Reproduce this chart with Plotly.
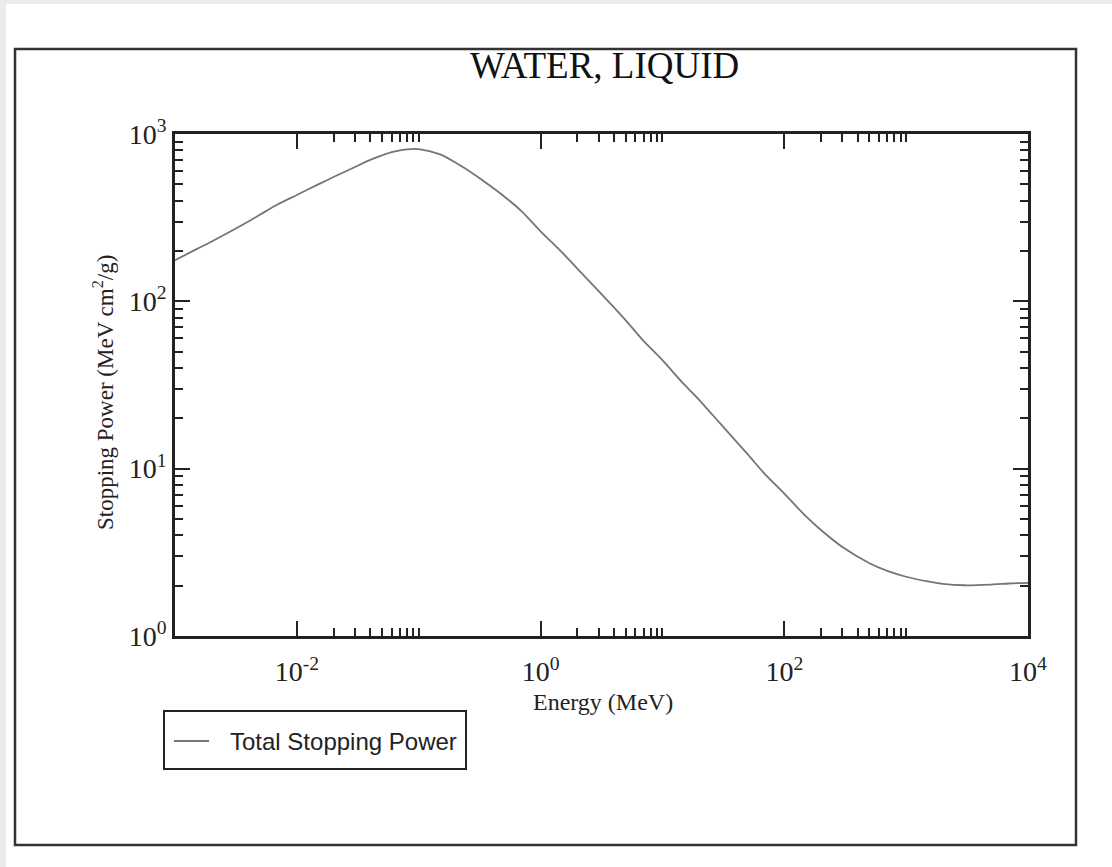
import plotly.graph_objects as go

# Proton total stopping power in liquid water
energy_mev = [0.001, 0.0015, 0.002, 0.003, 0.004, 0.005, 0.007, 0.01, 0.015, 0.02,
              0.03, 0.04, 0.05, 0.06, 0.08, 0.1, 0.15, 0.2, 0.3, 0.4, 0.5, 0.7,
              1.0, 1.5, 2.0, 3.0, 4.0, 5.0, 7.0, 10.0, 15.0, 20.0, 30.0, 50.0,
              70.0, 100.0, 150.0, 200.0, 300.0, 500.0, 700.0, 1000.0, 1500.0,
              2000.0, 3000.0, 5000.0, 7000.0, 10000.0]
stopping_power = [176, 205, 228, 267, 300, 330, 380, 432, 500, 553,
                  635, 700, 745, 778, 810, 813, 755, 675, 560, 480, 425, 345,
                  262, 196, 157, 115, 92, 77, 58, 44.5, 32, 25.8, 18.5, 12.2,
                  9.2, 7.1, 5.2, 4.3, 3.4, 2.72, 2.45, 2.26, 2.12,
                  2.05, 2.01, 2.03, 2.06, 2.08]

series_name = "Total Stopping Power"
chart_title = "WATER, LIQUID"
x_title = "Energy (MeV)"
y_title = "Stopping Power (MeV cm<sup>2</sup>/g)"

x_major = [0.01, 1, 100, 10000]
x_major_text = ["10<sup>-2</sup>", "10<sup>0</sup>", "10<sup>2</sup>", "10<sup>4</sup>"]
y_major = [1, 10, 100, 1000]
y_major_text = ["10<sup>0</sup>", "10<sup>1</sup>", "10<sup>2</sup>", "10<sup>3</sup>"]
x_minor = [k * 10.0 ** d for d in (-2, 0, 2) for k in range(2, 11)]
y_minor = [k * 10.0 ** d for d in (0, 1, 2) for k in range(2, 10)]

W, H = 1112, 867
L, R, T, B = 175, 1028, 134, 636   # plot area edges in pixels


def px(x):
    return (x - L) / (R - L)


def py(y):
    return (B - y) / (B - T)


SERIF = "Liberation Serif, Times New Roman, serif"
SANS = "Liberation Sans, Arial, sans-serif"
LINE_GRAY = "#757575"

fig = go.Figure()
fig.add_trace(go.Scatter(
    x=energy_mev, y=stopping_power, mode="lines", name=series_name,
    line=dict(color=LINE_GRAY, width=1.8, shape="spline", smoothing=0.8),
    showlegend=False,
))

axis_common = dict(
    type="log", showgrid=False, zeroline=False,
    showline=True, linecolor="#222222", linewidth=2.5, mirror="ticks",
    ticks="inside", ticklen=15, tickwidth=1.5, tickcolor="#222222",
    tickfont=dict(family=SERIF, size=28, color="#222222"),
    tickmode="array",
)

fig.update_xaxes(
    **axis_common, range=[-3, 4], tickvals=x_major, ticktext=x_major_text,
    ticklabelstandoff=9,
    minor=dict(tickmode="array", tickvals=x_minor, ticks="inside", ticklen=8,
               tickwidth=1.5, tickcolor="#222222", showgrid=False),
)
fig.update_yaxes(
    **axis_common, range=[0, 3], tickvals=y_major, ticktext=y_major_text,
    ticklabelstandoff=0,
    minor=dict(tickmode="array", tickvals=y_minor, ticks="inside", ticklen=8,
               tickwidth=1.5, tickcolor="#222222", showgrid=False),
)

shapes = [
    # white page inside the grey frame
    dict(type="rect", xref="paper", yref="paper", layer="below",
         x0=px(6), x1=px(W + 5), y0=py(H + 5), y1=py(4),
         fillcolor="white", line=dict(width=0)),
    # outer box
    dict(type="rect", xref="paper", yref="paper", layer="below",
         x0=px(15), x1=px(1076), y0=py(845), y1=py(49),
         fillcolor="rgba(0,0,0,0)", line=dict(color="#333333", width=2.5)),
    # legend box and sample line
    dict(type="rect", xref="paper", yref="paper",
         x0=px(164), x1=px(466), y0=py(769), y1=py(711),
         fillcolor="white", line=dict(color="#222222", width=2)),
    dict(type="line", xref="paper", yref="paper",
         x0=px(174), x1=px(209), y0=py(741), y1=py(741),
         line=dict(color=LINE_GRAY, width=1.8)),
]

annotations = [
    dict(text=chart_title, x=px(604), y=py(66), xref="paper", yref="paper",
         showarrow=False, xanchor="center", yanchor="middle",
         font=dict(family=SERIF, size=37, color="#111111")),
    dict(text=x_title, x=px(603), y=py(702), xref="paper", yref="paper",
         showarrow=False, xanchor="center", yanchor="middle",
         font=dict(family=SERIF, size=24, color="#222222")),
    dict(text=y_title, x=px(103), y=py(393), xref="paper", yref="paper",
         showarrow=False, xanchor="center", yanchor="middle", textangle=-90,
         font=dict(family=SERIF, size=23, color="#222222")),
    dict(text=series_name, x=px(228), y=py(741), xref="paper", yref="paper",
         showarrow=False, xanchor="left", yanchor="middle",
         font=dict(family=SANS, size=24, color="#222222")),
]

fig.update_layout(
    width=W, height=H,
    margin=dict(l=L, r=W - R, t=T, b=H - B, pad=0),
    paper_bgcolor="#ebebeb", plot_bgcolor="white",
    shapes=shapes, annotations=annotations,
    showlegend=False,
)

fig.write_html("out.html")
